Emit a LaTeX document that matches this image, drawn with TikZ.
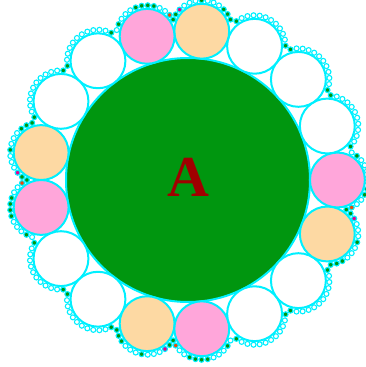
\documentclass[tikz,border=0pt]{standalone}
\usepackage{fontspec}
\setmainfont{Liberation Serif}
\usetikzlibrary{calc}

\definecolor{bigGreen}{RGB}{0,150,15}
\definecolor{ringCyan}{RGB}{0,240,255}
\definecolor{pinkFill}{RGB}{255,166,218}
\definecolor{peachFill}{RGB}{253,217,163}
\definecolor{dotRed}{RGB}{230,75,10}
\definecolor{dotMagenta}{RGB}{230,0,140}
\definecolor{labelRed}{RGB}{160,0,0}

\tikzset{
  disc/.style={draw=ringCyan, line width=2pt},
  bead/.style={draw=ringCyan, line width=1.1pt},
}

\begin{document}
\begin{tikzpicture}[x=1pt, y=1pt]
  \useasboundingbox (-188,-187) rectangle (178,180);

  % central disc
  \draw[disc, fill=bigGreen] (0,0) circle (122);

  % ring of 17 discs round it
  \foreach \k/\tint in {0/pinkFill, 1/white, 2/white, 3/white, 4/peachFill,
      5/pinkFill, 6/white, 7/white, 8/peachFill, 9/pinkFill, 10/white,
      11/white, 12/peachFill, 13/pinkFill, 14/white, 15/white, 16/peachFill} {
    \draw[disc, fill=\tint] ({\k*360/17}:149.4) circle (27.45);
  }

  % bead chains on the white discs
  \foreach \k in {1,2,3,6,7,10,11,14,15} {
    \foreach \c [count=\i from 0] in {bigGreen,white,white,white,white,white,
        white,white,white,white,white,bigGreen} {
      \draw[bead, fill=\c]
        ($({\k*360/17}:149.4)+({\k*360/17-62.5+\i*11.36}:31)$) circle (2.5);
    }
  }

  % bead chains on the pink discs
  \foreach \k in {0,5,9,13} {
    \foreach \c [count=\i from 0] in {dotRed,white,white,bigGreen,bigGreen,
        bigGreen,bigGreen,white,white,white,bigGreen,white} {
      \draw[bead, fill=\c]
        ($({\k*360/17}:149.4)+({\k*360/17-62.5+\i*11.36}:31)$) circle (2.5);
    }
  }

  % bead chains on the peach discs
  \foreach \k in {4,8,12,16} {
    \foreach \c [count=\i from 0] in {bigGreen,bigGreen,bigGreen,white,white,
        white,bigGreen,white,white,white,dotMagenta,bigGreen} {
      \draw[bead, fill=\c]
        ($({\k*360/17}:149.4)+({\k*360/17-62.5+\i*11.36}:31)$) circle (2.5);
    }
    % bead in the notch between peach and pink
    \draw[bead, fill=bigGreen] ({\k*360/17+180/17}:161.1) circle (2.5);
  }

  \node[text=labelRed, font=\fontsize{58}{60}\selectfont\bfseries]
    (lbl) at (0.5,2.5) {A};
\end{tikzpicture}
\end{document}
